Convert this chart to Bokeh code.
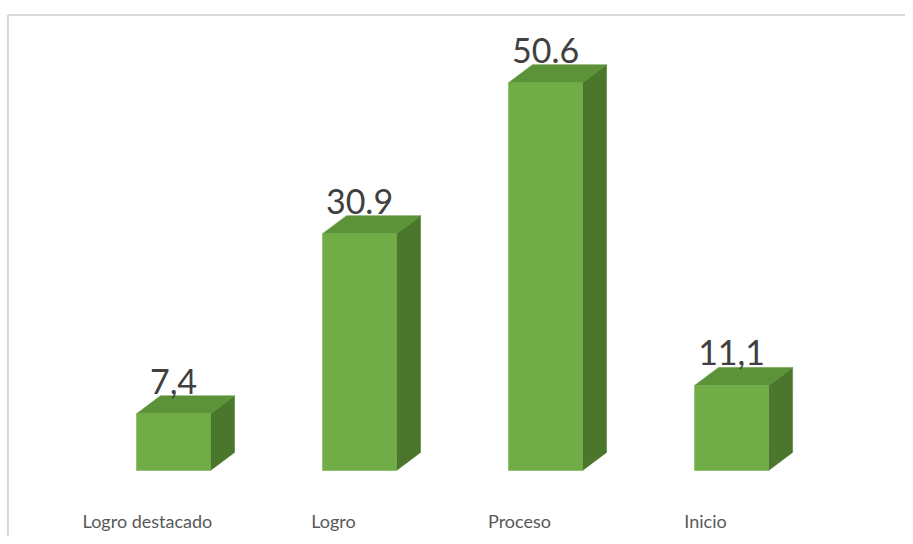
from bokeh.plotting import figure
from bokeh.models import Range1d, ColumnDataSource
from bokeh.core.properties import value
from bokeh.embed import file_html
from bokeh.resources import INLINE

categories = ["Logro destacado", "Logro", "Proceso", "Inicio"]
values = [7.4, 30.9, 50.6, 11.1]
value_labels = ["7,4", "30.9", "50.6", "11,1"]

# geometry (in data units)
half_w = 0.199      # half front width
depth_x = 0.129     # 3D depth offset, x
depth_y = 2.35      # 3D depth offset, y

FRONT = "#70ad47"
TOP = "#5c9238"
SIDE = "#4a772b"

p = figure(width=905, height=536, output_backend="svg", toolbar_location=None,
           x_range=Range1d(-0.930, 3.935), y_range=Range1d(-8.61, 61.32),
           min_border=0, min_border_left=0, min_border_right=0,
           min_border_top=0, min_border_bottom=0)
p.outline_line_color = None
p.xaxis.visible = False
p.yaxis.visible = False
p.xgrid.visible = False
p.ygrid.visible = False
p.background_fill_color = "white"
p.border_fill_color = "white"

xs = list(range(len(categories)))

# border (top and left)
p.segment(x0=[-0.890, -0.890], y0=[-8.61, 59.43], x1=[-0.890, 3.935], y1=[59.43, 59.43],
          line_color="#d9d9d9", line_width=2)

side_xs, side_ys, top_xs, top_ys = [], [], [], []
for x, v in zip(xs, values):
    r = x + half_w
    l = x - half_w
    side_xs.append([r, r + depth_x, r + depth_x, r])
    side_ys.append([0, depth_y, v + depth_y, v])
    top_xs.append([l, r, r + depth_x, l + depth_x])
    top_ys.append([v, v, v + depth_y, v + depth_y])

p.patches(side_xs, side_ys, fill_color=SIDE, line_color=SIDE, line_width=0.5)
p.patches(top_xs, top_ys, fill_color=TOP, line_color=TOP, line_width=0.5)

src = ColumnDataSource(dict(x=xs, v=values, lab=value_labels, cat=categories,
                            ly=[v + 4.25 for v in values],
                            cx=[x - 0.14 for x in xs],
                            cy=[-6.65] * len(xs)))
p.quad(left=[x - half_w for x in xs], right=[x + half_w for x in xs],
       bottom=[0] * len(xs), top=values, fill_color=FRONT, line_color=FRONT, line_width=0.5)

p.text(x="x", y="ly", text="lab", source=src, text_font=value("Lato"),
       text_font_size="34px", text_color="#404040", text_align="center",
       text_baseline="alphabetic")
p.text(x="cx", y="cy", text="cat", source=src, text_font=value("Lato"),
       text_font_size="18px", text_color="#595959", text_align="center",
       text_baseline="middle")

open("out.html", "w").write(file_html(p, INLINE))
